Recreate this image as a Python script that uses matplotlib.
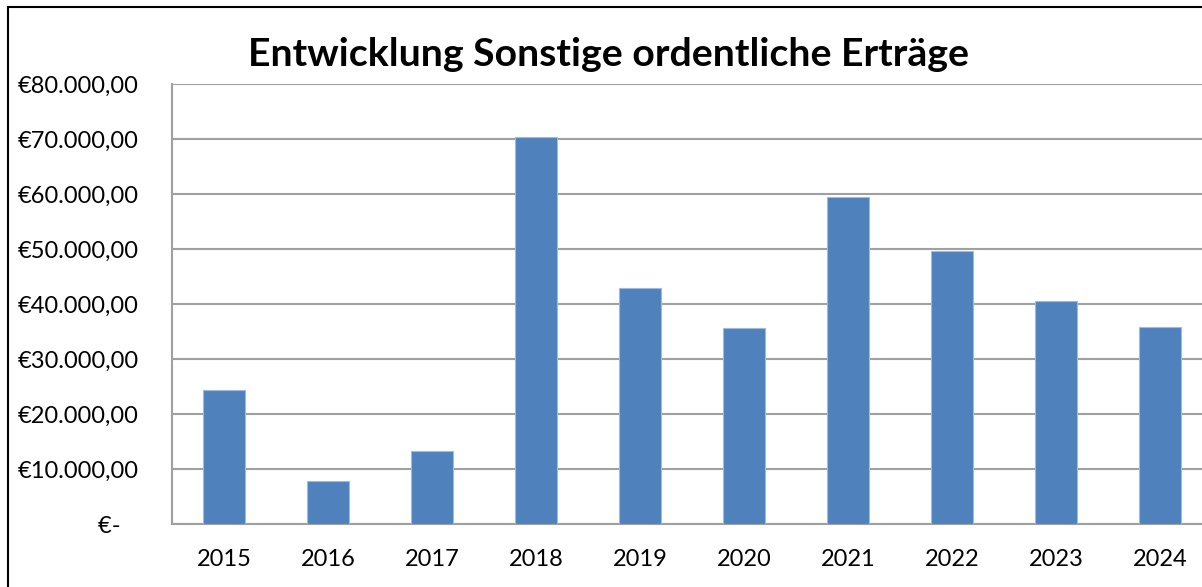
import matplotlib.pyplot as plt
import matplotlib.patches as mpatches
from matplotlib.ticker import FuncFormatter
import numpy as np

plt.rcParams["font.family"] = ["Lato", "DejaVu Sans"]

jahre = ["2015", "2016", "2017", "2018", "2019", "2020", "2021", "2022", "2023", "2024"]
ertraege = [24400, 7800, 13300, 70300, 42900, 35700, 59500, 49700, 40500, 35800]
y_ticks = [0, 10000, 20000, 30000, 40000, 50000, 60000, 70000, 80000]

W, H = 1202, 587
fig = plt.figure(figsize=(W / 100, H / 100), dpi=100, facecolor="white")

# Plotbereich ragt rechts etwas aus dem Bild (wie im Screenshot abgeschnitten)
ax = fig.add_axes([172 / W, (H - 524.3) / H, 1040 / W, 440.3 / H])
ax.set_facecolor("white")

x = np.arange(len(jahre))
ax.bar(x, ertraege, width=0.40, color="#4F81BD",
       edgecolor="#9DBBE0", linewidth=0.8, zorder=3)

ax.set_xlim(-0.5, len(jahre) - 0.5)
ax.set_ylim(0, 80000)
ax.set_yticks(y_ticks)


def euro(v, pos):
    if v == 0:
        return "€-   "
    s = f"{v:,.2f}".replace(",", "X").replace(".", ",").replace("X", ".")
    return "€" + s


ax.yaxis.set_major_formatter(FuncFormatter(euro))
ax.set_xticks(x)
ax.set_xticklabels(jahre)

ax.tick_params(axis="y", length=0, pad=24, labelsize=17, colors="black")
ax.tick_params(axis="x", length=0, pad=18, labelsize=17, colors="black")

ax.grid(axis="y", color="#A0A0A0", linewidth=1.5, zorder=0)
for s in ["top", "right"]:
    ax.spines[s].set_visible(False)
ax.spines["left"].set_color("#A0A0A0")
ax.spines["left"].set_linewidth(1.5)
ax.spines["bottom"].set_color("#A0A0A0")
ax.spines["bottom"].set_linewidth(1.5)

fig.text(608 / W, 1 - 55 / H, "Entwicklung Sonstige ordentliche Erträge",
         ha="center", va="center", fontsize=28.3, fontweight="bold")

# äußerer Diagrammrahmen
rahmen = mpatches.Rectangle((8 / W, -0.1), 1.2, 1 - 7 / H + 0.1,
                            transform=fig.transFigure, fill=False,
                            edgecolor="black", linewidth=1.5)
fig.patches.append(rahmen)

fig.savefig("out.png", dpi=100)
